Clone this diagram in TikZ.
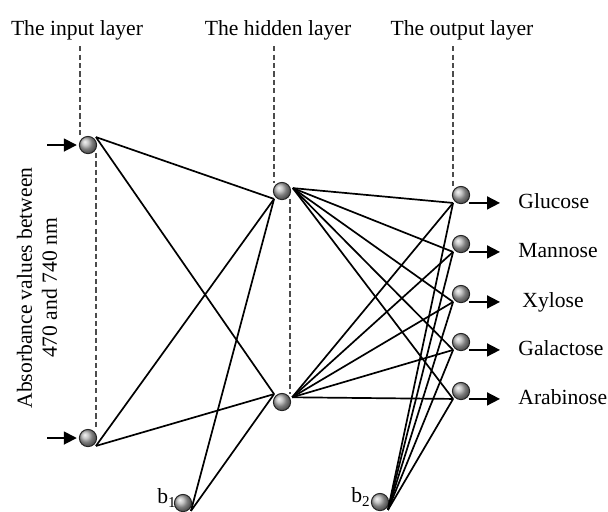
\documentclass[tikz,border=0pt]{standalone}
\usepackage{fontspec}
\setmainfont{Liberation Serif}
\usetikzlibrary{positioning, calc, arrows.meta}

\begin{document}
\begin{tikzpicture}[
        x=0.5pt, y=-0.5pt,
        % ball-like neurons
        neuron/.style={
            circle,
            draw=black!85,
            line width=0.5pt,
            shading=ball,
            ball color=gray!60,
            minimum size=8.6pt,
            inner sep=0pt,
            outer sep=1.3pt
        },
        link/.style={line width=0.85pt},
        guide/.style={draw=black!70, line width=0.6pt, dash pattern=on 2.6pt off 1.6pt},
        arr/.style={line width=0.85pt, -{Triangle[length=6.5pt,width=6.5pt]}},
        lbl/.style={font=\fontsize{10.8}{12.5}\selectfont, inner sep=0pt}
    ]

    \useasboundingbox (0,0) rectangle (608,511);

    % ==========================================
    % LAYER TITLES
    % ==========================================
    \node[lbl] (tin) at (77,30) {The input layer};
    \node[lbl] (thid) at (278,30) {The hidden layer};
    \node[lbl] (tout) at (462,30) {The output layer};

    % ==========================================
    % NEURONS
    % ==========================================

    % Input layer
    \node[neuron] (in1) at (88,145) {};
    \node[neuron] (in2) at (88,438) {};

    % Hidden layer
    \node[neuron] (h1) at (282,191) {};
    \node[neuron] (h2) at (282,402) {};

    % Biases
    \node[neuron] (b1) at (183,503) {};
    \node[neuron] (b2) at (380,502) {};
    \node[lbl] (b1lab) at (167,498) {b\textsubscript{1}};
    \node[lbl] (b2lab) at (361,497) {b\textsubscript{2}};

    % Output layer
    \foreach \i/\yy/\xx/\name in {1/195/518/Glucose, 2/244/518/Mannose, 3/294/522/Xylose,
                                  4/342/518/Galactose, 5/391/518/Arabinose} {
        \node[neuron] (o\i) at (461,\yy) {};
        \coordinate (t\i) at (500,\yy);
        \node[lbl, anchor=west, text height=1.5ex, text depth=.25ex] (n\i) at (\xx,\yy+8) {\name};
    }

    % ==========================================
    % DASHED GUIDES
    % ==========================================
    \draw[guide] ([yshift=-3pt]tin.south -| in1.north west) -- (in1.north west);
    \draw[guide] (in1.south east) -- (in2.north east);
    \draw[guide] ([yshift=-3pt]thid.south -| h1.north west) -- (h1.north west);
    \draw[guide] (h1.south east) -- (h2.north east);
    \draw[guide] ([yshift=-3pt]tout.south -| o1.north west) -- (o1.north west);

    % Rotated axis text
    \node[lbl, rotate=90, align=center] (axis) at (37,288)
        {Absorbance values between\\470 and 740 nm};

    % ==========================================
    % CONNECTIONS
    % ==========================================

    % Input arrows
    \coordinate (s1) at (47,145);
    \coordinate (s2) at (47,438);
    \draw[arr] (s1) -- (in1.west);
    \draw[arr] (s2) -- (in2.west);

    % Input -> hidden
    \draw[link] (in1.north east) -- (h1.south west);
    \draw[link] (in1.north east) -- (h2.north west);
    \draw[link] (in2.south east) -- (h1.south west);
    \draw[link] (in2.south east) -- (h2.north west);
    \draw[link] (b1.south east) -- (h1.south west);
    \draw[link] (b1.south east) -- (h2.north west);

    % Hidden -> output
    \foreach \i in {1,...,5} {
        \draw[link] (h1.15) -- (o\i.south west);
        \draw[link] (h2.25) -- (o\i.south west);
        \draw[link] (b2.south east) -- (o\i.south west);
        \draw[arr] (o\i.south east) -- (o\i.south east -| t\i);
    }

\end{tikzpicture}
\end{document}
